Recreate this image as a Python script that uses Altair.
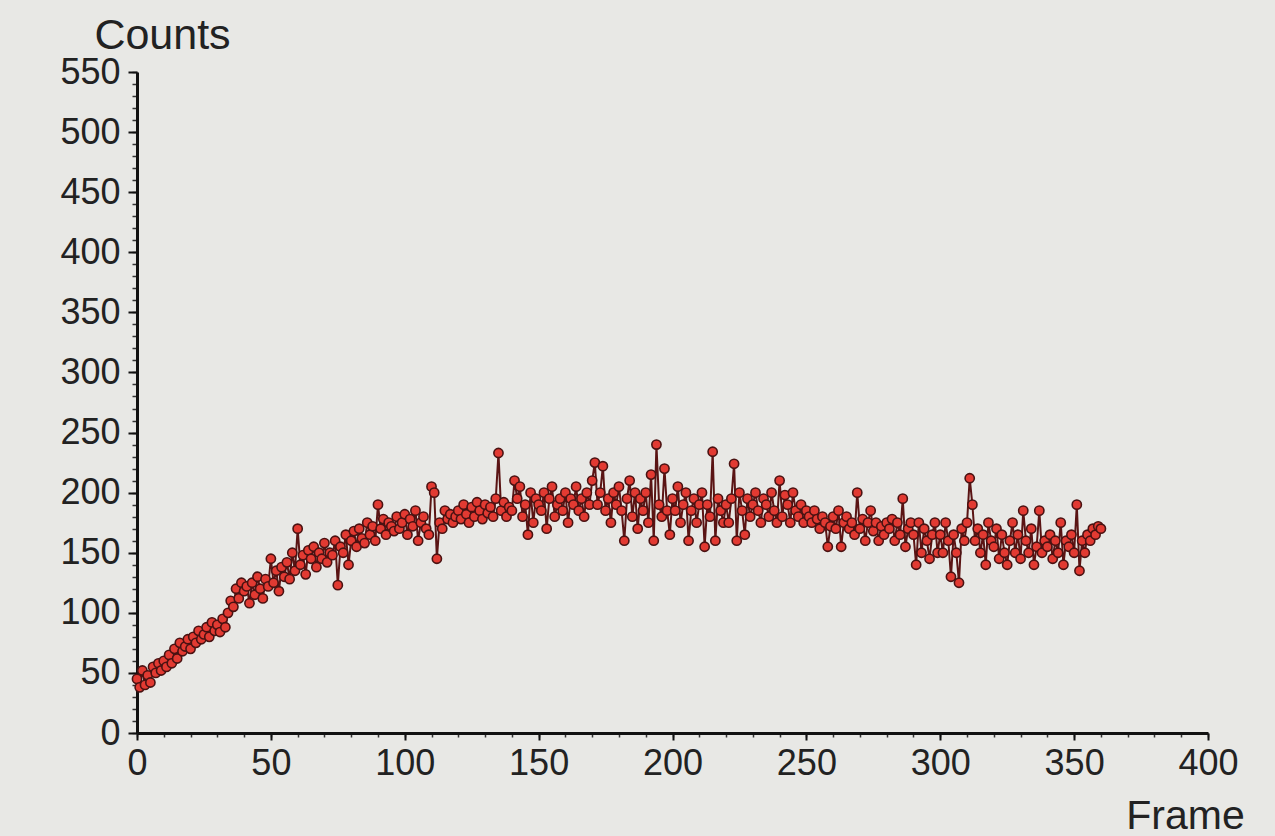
import altair as alt
import pandas as pd

counts = [
    45, 38, 52, 40, 48, 42, 55, 50, 58, 52,
    60, 55, 65, 58, 70, 62, 75, 68, 72, 78,
    70, 80, 75, 85, 78, 82, 88, 80, 92, 85,
    90, 84, 95, 88, 100, 110, 105, 120, 112, 125,
    118, 122, 108, 125, 115, 130, 120, 112, 128, 122,
    145, 125, 135, 118, 138, 130, 142, 128, 150, 135,
    170, 140, 148, 132, 152, 145, 155, 138, 150, 145,
    158, 142, 150, 148, 160, 123, 155, 150, 165, 140,
    160, 168, 155, 170, 162, 158, 175, 165, 172, 160,
    190, 170, 178, 165, 175, 172, 168, 180, 170, 175,
    182, 165, 178, 172, 185, 160, 175, 180, 170, 165,
    205, 200, 145, 175, 170, 185, 178, 182, 175, 180,
    185, 178, 190, 182, 175, 188, 180, 192, 185, 178,
    190, 183, 188, 180, 195, 233, 185, 192, 180, 188,
    185, 210, 195, 205, 180, 190, 165, 200, 175, 195,
    190, 185, 200, 170, 195, 205, 180, 190, 195, 185,
    200, 175, 195, 190, 205, 185, 195, 180, 200, 190,
    210, 225, 190, 200, 222, 185, 195, 175, 200, 190,
    205, 185, 160, 195, 210, 180, 200, 170, 195, 185,
    200, 175, 215, 160, 240, 190, 180, 220, 185, 165,
    195, 185, 205, 175, 190, 200, 160, 185, 195, 175,
    190, 200, 155, 190, 180, 234, 160, 195, 185, 175,
    190, 175, 195, 224, 160, 200, 185, 165, 195, 180,
    190, 200, 185, 175, 195, 190, 180, 200, 185, 175,
    210, 180, 198, 190, 175, 200, 185, 180, 190, 175,
    185, 180, 175, 185, 178, 170, 180, 175, 155, 172,
    180, 170, 185, 155, 175, 180, 170, 175, 165, 200,
    170, 178, 160, 175, 185, 168, 175, 160, 172, 165,
    175, 170, 178, 160, 175, 165, 195, 155, 170, 175,
    165, 140, 175, 150, 170, 160, 145, 165, 175, 150,
    165, 150, 175, 160, 130, 165, 150, 125, 170, 160,
    175, 212, 190, 160, 170, 150, 165, 140, 175, 160,
    155, 170, 145, 165, 150, 140, 160, 175, 150, 165,
    145, 185, 160, 150, 170, 140, 155, 185, 150, 160,
    155, 165, 145, 160, 150, 175, 140, 160, 155, 165,
    150, 190, 135, 160, 150, 165, 160, 170, 165, 172,
    170,
]
frames = list(range(len(counts)))

y_major = list(range(0, 551, 50))
y_minor = list(range(0, 551, 10))
x_major = list(range(0, 401, 50))
x_minor = list(range(0, 401, 10))

df = pd.DataFrame({"Frame": frames, "Counts": counts})

FONT = "Liberation Sans"
xscale = alt.Scale(domain=[0, 400], nice=False)
yscale = alt.Scale(domain=[0, 550], nice=False)

base = alt.Chart(df)

minor = base.mark_point(opacity=0).encode(
    x=alt.X("Frame:Q", scale=xscale,
            axis=alt.Axis(values=x_minor, orient="bottom", labels=False, title=None,
                          domain=False, grid=False, tickSize=4, tickWidth=1.5,
                          tickColor="#333")),
    y=alt.Y("Counts:Q", scale=yscale,
            axis=alt.Axis(values=y_minor, orient="left", labels=False, title=None,
                          domain=False, grid=False, tickSize=5, tickWidth=1.5,
                          tickColor="#333")),
)

line = base.mark_line(color="#5a1414", strokeWidth=2).encode(
    x=alt.X("Frame:Q", scale=xscale, axis=None),
    y=alt.Y("Counts:Q", scale=yscale, axis=None),
)

points = base.mark_point(filled=True, fill="#e23a32", stroke="#4a1212",
                         strokeWidth=1.6, size=85, opacity=1).encode(
    x=alt.X("Frame:Q", scale=xscale,
            axis=alt.Axis(values=x_major, orient="bottom", title="Frame", grid=False,
                          domainColor="#111", domainWidth=3, tickColor="#111",
                          tickSize=7, tickWidth=2, labelFont=FONT, labelFontSize=36,
                          labelColor="#222", labelPadding=6, labelFlush=False,
                          titleFont=FONT, titleFontSize=41, titleFontWeight="normal",
                          titleColor="#222", titleAnchor="start", titleAlign="center",
                          titleBaseline="alphabetic", titleX=1048, titleY=95)),
    y=alt.Y("Counts:Q", scale=yscale,
            axis=alt.Axis(values=y_major, orient="left", title="Counts", grid=False,
                          domainColor="#111", domainWidth=3, tickColor="#111",
                          tickSize=9, tickWidth=2, labelFont=FONT, labelFontSize=36,
                          labelColor="#222", labelPadding=8, labelFlush=False,
                          titleFont=FONT, titleFontSize=43, titleFontWeight="normal",
                          titleColor="#222", titleAngle=0, titleAnchor="start",
                          titleAlign="center", titleBaseline="alphabetic",
                          titleX=25, titleY=-24)),
)

chart = alt.layer(minor, line, points).resolve_axis(
    x="independent", y="independent"
).properties(
    width=1071,
    height=661,
    autosize=alt.AutoSizeParams(type="none"),
    padding={"left": 137, "top": 72, "right": 67, "bottom": 103},
    background="#e8e8e5",
).configure_view(stroke=None)

chart.save("out.html", embed_options={"renderer": "svg", "actions": False})
